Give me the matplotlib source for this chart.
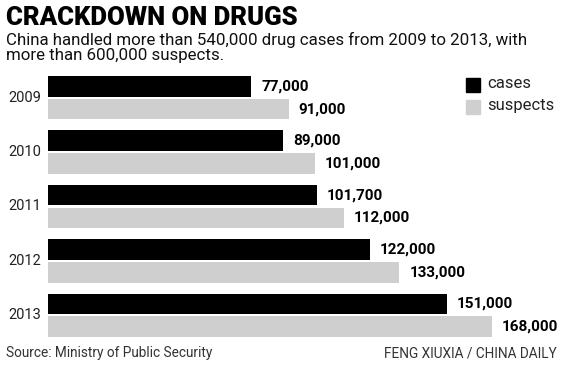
import matplotlib.pyplot as plt
import matplotlib.patches as mpatches

# Data
years = ['2009', '2010', '2011', '2012', '2013']
cases = [77000, 89000, 101700, 122000, 151000]
suspects = [91000, 101000, 112000, 133000, 168000]

title = 'CRACKDOWN ON DRUGS'
subtitle = ('China handled more than 540,000 drug cases from 2009 to 2013, with\n'
            'more than 600,000 suspects.')
source = 'Source: Ministry of Public Security'
credit = 'FENG XIUXIA / CHINA DAILY'

black = '#000000'
gray = '#cfcfcf'

plt.rcParams['font.family'] = ['Roboto', 'DejaVu Sans']

fig = plt.figure(figsize=(5.64, 3.65), dpi=100)
ax = fig.add_axes([48 / 564, 28 / 365, 516 / 564, 261 / 365])

pos = list(range(len(years)))
h = 0.38
off = 0.21
ax.barh([p - off for p in pos], cases, height=h, color=black)
ax.barh([p + off for p in pos], suspects, height=h, color=gray)

ax.set_xlim(0, 168000 * 516 / 444)
ax.set_ylim(4.4, -0.4)
ax.axis('off')

# value labels
for p, c, s in zip(pos, cases, suspects):
    ax.annotate(f'{c:,}', (c, p - off), xytext=(7, 0), textcoords='offset points',
                va='center', ha='left', fontsize=11, fontweight='bold')
    ax.annotate(f'{s:,}', (s, p + off), xytext=(7, 0), textcoords='offset points',
                va='center', ha='left', fontsize=11, fontweight='bold')

# year labels
for p, y in zip(pos, years):
    ax.annotate(y, (0, p), xytext=(-5, 0), textcoords='offset points',
                va='center', ha='right', fontsize=10.5, color='#222222')

# title and subtitle
fig.text(6 / 564, 1 - 6 / 365, title, fontsize=18.5, fontweight='black',
         va='top', ha='left')
fig.text(6 / 564, 1 - 32 / 365, subtitle, fontsize=12.2, va='top', ha='left',
         linespacing=1.0, color='#111111')

# legend
fig.patches.append(mpatches.Rectangle((466 / 564, 1 - 92 / 365), 14 / 564, 14 / 365,
                                      transform=fig.transFigure, color=black))
fig.patches.append(mpatches.Rectangle((466 / 564, 1 - 114 / 365), 14 / 564, 14 / 365,
                                      transform=fig.transFigure, color=gray))
fig.text(487 / 564, 1 - 84 / 365, 'cases', fontsize=12, va='center', ha='left',
         color='#222222')
fig.text(487 / 564, 1 - 106 / 365, 'suspects', fontsize=12, va='center', ha='left',
         color='#222222')

# footer
fig.text(6 / 564, 1 - 353 / 365, source, fontsize=9.8,
         va='center', ha='left', color='#333333')
fig.text(557 / 564, 1 - 353 / 365, credit, fontsize=9.8,
         va='center', ha='right', color='#333333')

plt.savefig('out.png', dpi=100)
